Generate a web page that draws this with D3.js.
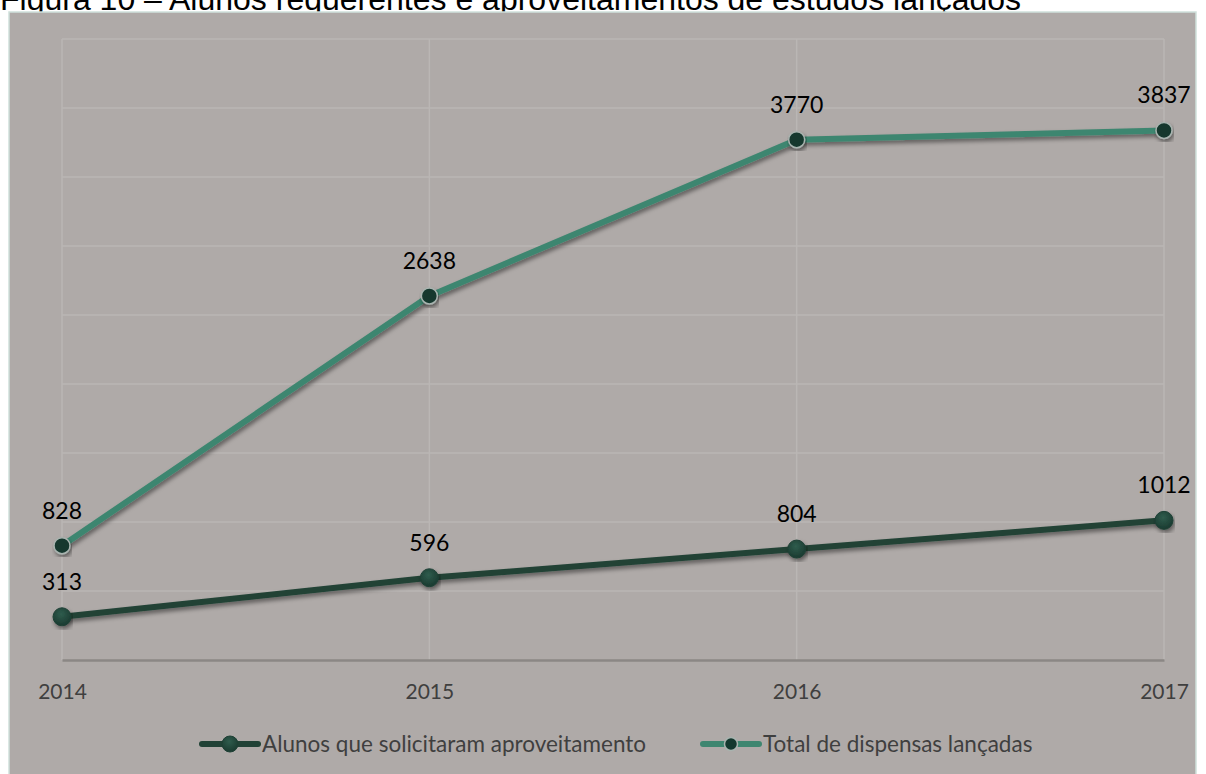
<!DOCTYPE html>
<html>
<head>
<meta charset="utf-8">
<script src="https://cdn.jsdelivr.net/npm/d3@7"></script>
<style>
    body { margin: 0; background: #ffffff; }
    svg { display: block; }
</style>
</head>
<body>
<svg id="chart" width="1206" height="774"></svg>
<script>

// Data
const years = ["2014", "2015", "2016", "2017"];
const alunosValues = [313, 596, 804, 1012];
const dispensasValues = [828, 2638, 3770, 3837];
const seriesNames = ["Alunos que solicitaram aproveitamento", "Total de dispensas lançadas"];
const yTicks = [500, 1000, 1500, 2000, 2500, 3000, 3500, 4000, 4500];
const titleText = "Figura 10 – Alunos requerentes e aproveitamentos de estudos lançados";

// Sizes
const width = 1206, height = 774;
const plotLeft = 62, plotRight = 1164, plotTop = 39, plotBottom = 660;

const darkColor = "#214236";
const tealColor = "#3e8670";
const labelFont = "Lato, 'Open Sans', sans-serif";

let svg = d3.select("#chart");

// Defs: shadow + marker gradient
let defs = svg.append("defs");

let shadow = defs.append("filter")
    .attr("id", "shadow")
    .attr("x", "-10%").attr("y", "-10%")
    .attr("width", "120%").attr("height", "130%");
shadow.append("feDropShadow")
    .attr("dx", 1.5)
    .attr("dy", 3)
    .attr("stdDeviation", 2.2)
    .attr("flood-color", "#000")
    .attr("flood-opacity", 0.45);

let grad = defs.append("radialGradient")
    .attr("id", "darkMarker")
    .attr("cx", "45%").attr("cy", "35%").attr("r", "65%");
grad.append("stop").attr("offset", "0%").attr("stop-color", "#2f5c4d");
grad.append("stop").attr("offset", "100%").attr("stop-color", "#1a3a30");

// Title (top part cut by the page edge, like the source)
svg.append("text")
    .attr("x", 0)
    .attr("y", 10)
    .attr("font-family", "'Liberation Sans', Arial, sans-serif")
    .attr("font-size", 32)
    .attr("fill", "#000")
    .text(titleText);

// Chart box
svg.append("rect")
    .attr("x", 9)
    .attr("y", 12)
    .attr("width", 1187)
    .attr("height", 770)
    .attr("fill", "#afaaa8")
    .attr("stroke", "#cfe1db")
    .attr("stroke-width", 1.5);

// Scales
let x = d3.scalePoint()
    .domain(years)
    .range([plotLeft, plotRight]);

let y = d3.scaleLinear()
    .domain([0, 4500])
    .range([plotBottom, plotTop]);

// Gridlines
let gridG = svg.append("g");

gridG.selectAll(".hgrid")
    .data(yTicks)
    .join("line")
    .attr("class", "hgrid")
    .attr("x1", plotLeft)
    .attr("x2", plotRight)
    .attr("y1", d => y(d))
    .attr("y2", d => y(d))
    .attr("stroke", "#bab6b4")
    .attr("stroke-width", 1.5);

gridG.selectAll(".vgrid")
    .data(years)
    .join("line")
    .attr("class", "vgrid")
    .attr("x1", d => x(d))
    .attr("x2", d => x(d))
    .attr("y1", plotTop)
    .attr("y2", plotBottom)
    .attr("stroke", "#bab6b4")
    .attr("stroke-width", 1.5);

// X axis
let xAxis = svg.append("g")
    .attr("transform", "translate(0," + plotBottom + ")")
    .call(d3.axisBottom(x).tickSize(0).tickPadding(24));

xAxis.select(".domain")
    .attr("stroke", "#8b8785")
    .attr("stroke-width", 2.5);

xAxis.selectAll("text")
    .attr("font-family", labelFont)
    .attr("font-size", 21)
    .attr("fill", "#3f3f3f");

// Lines
let line = d3.line()
    .x((d, i) => x(years[i]))
    .y(d => y(d));

let seriesG = svg.append("g");

seriesG.append("path")
    .datum(alunosValues)
    .attr("d", line)
    .attr("fill", "none")
    .attr("stroke", darkColor)
    .attr("stroke-width", 6)
    .attr("stroke-linejoin", "round")
    .attr("filter", "url(#shadow)");

seriesG.append("path")
    .datum(dispensasValues)
    .attr("d", line)
    .attr("fill", "none")
    .attr("stroke", tealColor)
    .attr("stroke-width", 6)
    .attr("stroke-linejoin", "round")
    .attr("filter", "url(#shadow)");

// Markers
seriesG.selectAll(".alunosMarker")
    .data(alunosValues)
    .join("circle")
    .attr("class", "alunosMarker")
    .attr("cx", (d, i) => x(years[i]))
    .attr("cy", d => y(d))
    .attr("r", 9)
    .attr("fill", "url(#darkMarker)")
    .attr("stroke", "#1e4035")
    .attr("stroke-width", 1)
    .attr("filter", "url(#shadow)");

seriesG.selectAll(".dispensasMarker")
    .data(dispensasValues)
    .join("circle")
    .attr("class", "dispensasMarker")
    .attr("cx", (d, i) => x(years[i]))
    .attr("cy", d => y(d))
    .attr("r", 8)
    .attr("fill", "#14382e")
    .attr("stroke", "#a9b4b0")
    .attr("stroke-width", 1.5)
    .attr("filter", "url(#shadow)");

// Data labels
let labelsG = svg.append("g")
    .attr("font-family", labelFont)
    .attr("font-size", 23)
    .attr("fill", "#000")
    .attr("text-anchor", "middle");

labelsG.selectAll(".alunosLabel")
    .data(alunosValues)
    .join("text")
    .attr("x", (d, i) => x(years[i]))
    .attr("y", d => y(d) - 27)
    .text(d => d);

labelsG.selectAll(".dispensasLabel")
    .data(dispensasValues)
    .join("text")
    .attr("x", (d, i) => x(years[i]))
    .attr("y", d => y(d) - 27)
    .text(d => d);

// Legend
let legendItems = [
    { name: seriesNames[0], color: darkColor, x: 202, dark: true },
    { name: seriesNames[1], color: tealColor, x: 703, dark: false }
];
let legendY = 744;

let legendG = svg.append("g");

for (let item of legendItems) {
    let itemG = legendG.append("g")
        .attr("transform", "translate(" + item.x + "," + legendY + ")");

    itemG.append("line")
        .attr("x1", 0)
        .attr("x2", 56)
        .attr("y1", 0)
        .attr("y2", 0)
        .attr("stroke", item.color)
        .attr("stroke-width", 6)
        .attr("stroke-linecap", "round");

    itemG.append("circle")
        .attr("cx", 28)
        .attr("cy", 0)
        .attr("r", item.dark ? 8 : 6.5)
        .attr("fill", item.dark ? "url(#darkMarker)" : "#14382e")
        .attr("stroke", item.dark ? "#1e4035" : "#a9b4b0")
        .attr("stroke-width", item.dark ? 1 : 1.5);

    itemG.append("text")
        .attr("x", 60)
        .attr("y", 8)
        .attr("font-family", labelFont)
        .attr("font-size", 22.5)
        .attr("fill", "#3f3f3f")
        .text(item.name);
}

</script>
</body>
</html>
